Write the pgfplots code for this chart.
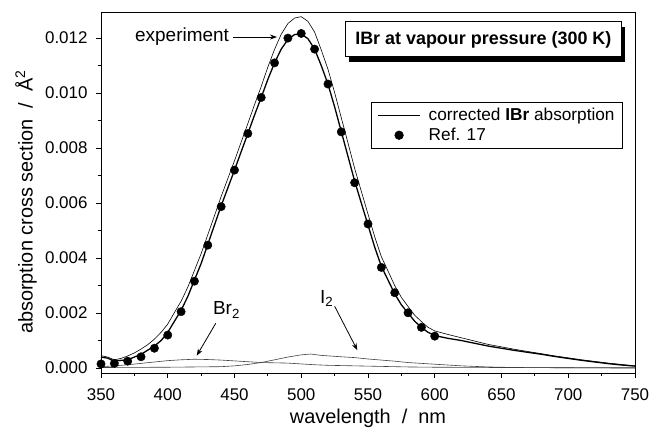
\documentclass[border=0pt]{standalone}
\usepackage{pgfplots}
\pgfplotsset{compat=1.18}
\usepackage{fontspec}
\setmainfont{Liberation Sans}
\usetikzlibrary{shadows,arrows.meta}

\pgfplotsset{
  lineleg/.style={legend image code/.code={\draw[##1] (0bp,0bp) -- (42bp,0bp);}},
  dotleg/.style={legend image code/.code={\draw[mark repeat=2, mark phase=2, ##1] plot coordinates {(0bp,0bp) (21bp,0bp) (42bp,0bp)};}},
}

\pgfplotstableread{
x y
350 0.00040
355 0.00036
360 0.00025
365 0.00028
370 0.00030
375 0.00040
380 0.00050
385 0.00065
390 0.00080
395 0.00100
400 0.00130
405 0.00170
410 0.00210
415 0.00260
420 0.00320
425 0.00380
430 0.00450
435 0.00520
440 0.00590
445 0.00655
450 0.00720
455 0.00787
460 0.00853
465 0.00920
470 0.00984
475 0.01050
480 0.01110
485 0.01160
490 0.01195
495 0.01213
500 0.01215
505 0.01198
510 0.01160
515 0.01100
520 0.01033
525 0.00950
530 0.00860
535 0.00770
540 0.00680
545 0.00600
550 0.00520
555 0.00440
560 0.00370
565 0.00320
570 0.00270
575 0.00230
580 0.00200
585 0.00170
590 0.00148
595 0.00130
600 0.00118
610 0.00108
620 0.00100
630 0.00090
640 0.00080
650 0.00072
660 0.00064
670 0.00057
680 0.00050
690 0.00042
700 0.00035
710 0.00028
720 0.00022
730 0.00016
740 0.00011
750 0.00007
}\corrected

\pgfplotstableread{
x y
350 0.00045
355 0.00040
360 0.00030
365 0.00035
370 0.00044
375 0.00055
380 0.00069
385 0.00085
390 0.00105
395 0.00130
400 0.00160
405 0.00202
410 0.00243
415 0.00294
420 0.00355
425 0.00416
430 0.00485
435 0.00554
440 0.00624
445 0.00689
450 0.00754
455 0.00822
460 0.00889
465 0.00958
470 0.01024
475 0.01095
480 0.01159
485 0.01214
490 0.01253
495 0.01273
500 0.01278
505 0.01261
510 0.01222
515 0.01157
520 0.01087
525 0.01002
530 0.00910
535 0.00819
540 0.00726
545 0.00643
550 0.00560
555 0.00478
560 0.00405
565 0.00353
570 0.00300
575 0.00257
580 0.00224
585 0.00192
590 0.00169
595 0.00148
600 0.00135
610 0.00122
620 0.00110
630 0.00098
640 0.00086
650 0.00077
660 0.00068
670 0.00060
680 0.00052
690 0.00044
700 0.00037
710 0.00030
720 0.00024
730 0.00018
740 0.00013
750 0.00008
}\experiment

\pgfplotstableread{
x y
350 0.00005
360 0.00008
370 0.00012
380 0.00017
390 0.00022
400 0.00027
410 0.00030
420 0.00032
430 0.00031
440 0.00029
450 0.00026
460 0.00023
470 0.00020
480 0.00019
490 0.00018
500 0.00015
510 0.00012
520 0.00010
540 0.00008
560 0.00006
580 0.00004
600 0.00003
650 0.00002
700 0.00001
750 0.00001
}\brtwo

\pgfplotstableread{
x y
350 0.00002
400 0.00003
440 0.00005
450 0.00008
460 0.00013
470 0.00020
480 0.00030
490 0.00040
500 0.00048
507 0.00051
515 0.00046
530 0.00041
540 0.00038
550 0.00033
560 0.00029
570 0.00025
580 0.00020
590 0.00017
600 0.00014
620 0.00008
640 0.00004
660 0.00002
700 0.00001
750 0.00000
}\itwo

\pgfplotstableread{
x y
350 0.00015
360 0.00017
370 0.00025
380 0.00041
390 0.00072
400 0.00120
410 0.00205
420 0.00316
430 0.00447
440 0.00587
450 0.00720
460 0.00853
470 0.00984
480 0.01110
490 0.01200
500 0.01217
510 0.01160
520 0.01033
530 0.00859
540 0.00674
550 0.00524
560 0.00366
570 0.00274
580 0.00201
590 0.00148
600 0.00116
}\refdata

\begin{document}
\begin{tikzpicture}
\begin{axis}[
  scale only axis, width=534bp, height=361bp,
  xmin=350, xmax=750, ymin=-0.00018, ymax=0.01295,
  xtick={350,400,450,500,550,600,650,700,750}, minor x tick num=1,
  ytick={0,0.002,0.004,0.006,0.008,0.010,0.012}, minor y tick num=1,
  tick align=outside, xtick pos=bottom, ytick pos=left,
  major tick length=5bp, minor tick length=3bp,
  scaled y ticks=false,
  yticklabel style={/pgf/number format/.cd, fixed, fixed zerofill, precision=3, /tikz/.cd, xshift=-5bp},
  xticklabel style={yshift=-7bp},
  /pgf/number format/assume math mode=true,
  ticklabel style={font=\fontsize{17}{20}\selectfont},
  axis line style={line width=0.9pt},
  every tick/.style={line width=0.8pt, black},
  xlabel={wavelength\ \ /\ \ nm},
  ylabel={absorption cross section\ \ /\ \ Å\textsuperscript{2}},
  label style={font=\fontsize{20}{23}\selectfont},
  xlabel style={at={(axis description cs:0.5,-0.14)}, anchor=base},
  ylabel style={at={(axis description cs:-0.128,0.474)}, anchor=base},
  legend style={at={(rel axis cs:0.9775,0.751)}, anchor=north east, draw=black, line width=0.8pt,
    font=\fontsize{17.3}{20}\selectfont, cells={anchor=west}, row sep=2bp, column sep=6bp,
    inner xsep=6bp, inner ysep=4bp},
]
\addplot[forget plot, black, line width=0.6pt] table[x=x,y=y] {\experiment};
\addplot[forget plot, black!75, line width=0.6pt] table[x=x,y=y] {\brtwo};
\addplot[forget plot, black!75, line width=0.6pt] table[x=x,y=y] {\itwo};
\addplot[black, line width=1.3pt, lineleg] table[x=x,y=y] {\corrected};
\addlegendentry{corrected \textbf{IBr} absorption}
\addplot[only marks, mark=*, mark size=4.2bp, black, dotleg] table[x=x,y=y] {\refdata};
\addlegendentry{Ref. 17}

\node[font=\fontsize{19}{22}\selectfont] at (axis cs:410.7,0.01204) {experiment};
\draw[-{Stealth[length=7bp,width=5bp]}, line width=0.8pt] (axis cs:449,0.01204) -- (axis cs:481.8,0.01204);
\node[font=\fontsize{19}{22}\selectfont] at (axis cs:444,0.00211) {Br\textsubscript{2}};
\draw[-{Stealth[length=7bp,width=5bp]}, line width=0.8pt] (axis cs:436,0.00163) -- (axis cs:421.7,0.00045);
\node[font=\fontsize{19}{22}\selectfont] at (axis cs:519,0.00253) {I\textsubscript{2}};
\draw[-{Stealth[length=7bp,width=5bp]}, line width=0.8pt] (axis cs:525,0.00225) -- (axis cs:542,0.00065);

\node[draw, fill=white, line width=0.9pt, font=\bfseries\fontsize{18}{21}\selectfont,
  minimum height=35bp, inner xsep=10bp,
  drop shadow={shadow xshift=4bp, shadow yshift=-5bp, opacity=1, fill=black}]
  at (rel axis cs:0.716,0.924) {IBr at vapour pressure (300 K)};
\end{axis}
\pgfresetboundingbox
\path ([xshift=-101bp,yshift=-57bp]current axis.south west) rectangle ([xshift=14bp,yshift=12bp]current axis.north east);
\end{tikzpicture}
\end{document}
